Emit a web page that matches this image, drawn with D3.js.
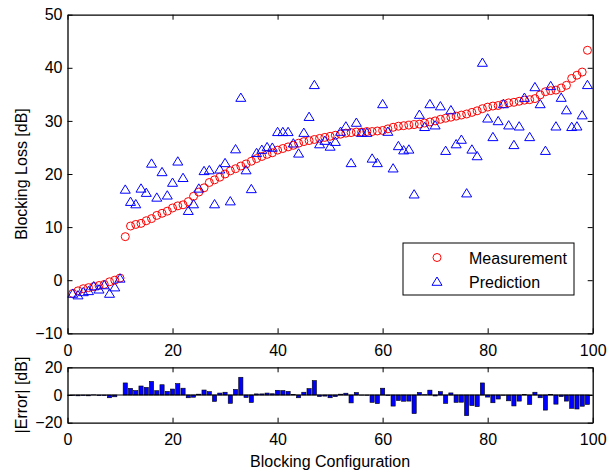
<!DOCTYPE html>
<html>
<head>
<meta charset="utf-8">
<script src="https://cdn.jsdelivr.net/npm/d3@7"></script>
<style>
body { margin: 0; background: #fff; }
text { font-family: Arial, "Liberation Sans", Helvetica, sans-serif; fill: #000; }
</style>
</head>
<body>
<div id="chart"></div>
<script>
// blocking configurations 1..99
var configs = d3.range(1, 100);

var measurement = [-2.5, -2.0, -1.6, -1.4, -1.2, -1.0, -0.8, -0.3, 0.0, 0.4,
  8.2, 10.2, 10.5, 10.7, 11.2, 11.6, 12.2, 12.6, 13.0, 13.6,
  14.0, 14.2, 14.8, 15.8, 16.6, 17.4, 18.4, 18.9, 19.4, 20.0,
  20.6, 21.0, 21.5, 21.9, 22.4, 22.9, 23.3, 23.7, 24.0, 24.5,
  24.8, 25.1, 25.4, 25.8, 26.1, 26.3, 26.5, 26.7, 26.9, 27.1,
  27.3, 27.5, 27.7, 27.8, 27.9, 27.9, 28.0, 28.0, 28.1, 28.2,
  28.5, 28.8, 29.0, 29.1, 29.2, 29.3, 29.4, 29.6, 29.8, 30.0,
  30.3, 30.5, 30.7, 30.9, 31.1, 31.3, 31.6, 31.9, 32.3, 32.6,
  32.8, 32.9, 33.2, 33.4, 33.5, 33.7, 33.9, 34.0, 34.2, 34.9,
  35.5, 35.7, 35.8, 36.2, 36.7, 38.0, 38.6, 39.2, 43.3];

var prediction = [-2.5, -2.8, -2.2, -2.0, -1.1, -1.7, -0.9, -2.5, -1.3, 0.35,
  17.1, 14.8, 14.35, 17.3, 16.5, 22.0, 15.6, 20.4, 16.0, 18.4,
  22.4, 19.3, 13.1, 14.35, 17.3, 20.6, 20.75, 14.35, 20.9, 22.1,
  14.9, 24.7, 34.4, 20.75, 17.2, 24.0, 24.6, 25.1, 25.0, 27.95,
  27.95, 27.95, 25.8, 23.9, 27.8, 30.8, 36.8, 25.65, 26.3, 25.2,
  26.1, 28.0, 29.0, 22.1, 29.7, 27.8, 27.8, 22.95, 22.1, 33.2,
  28.0, 21.1, 25.3, 24.5, 24.65, 16.2, 31.2, 28.9, 33.2, 29.2,
  32.8, 24.4, 32.05, 25.65, 26.5, 16.4, 24.65, 23.4, 41.0, 30.5,
  27.0, 30.0, 33.2, 29.2, 25.5, 29.0, 34.4, 27.0, 36.4, 33.2,
  24.4, 36.6, 29.0, 34.4, 32.05, 28.9, 29.0, 31.1, 36.8];

var errors = [-0.3, -0.6, -0.4, -0.6, 0.1, -0.5, -0.4, -2.0, -1.3, 0.0,
  8.7, 4.8, 3.2, 6.5, 5.5, 9.8, 3.1, 7.4, 2.6, 4.3,
  8.2, 4.9, -2.0, -1.6, 0.6, 3.6, 2.4, -4.6, 1.4, 2.0,
  -6.0, 4.0, 12.8, -1.8, -5.4, 0.8, 0.8, 1.4, 0.9, 3.4,
  3.2, 2.6, 0.4, -2.0, 2.0, 4.6, 10.4, -1.1, -0.8, -2.0,
  -1.2, 0.6, 1.3, -5.7, 1.8, -0.1, -0.2, -5.3, -6.2, 4.9,
  -0.4, -8.0, -4.0, -4.5, -4.4, -13.4, 1.8, 0.2, 3.5, -0.7,
  2.4, -6.0, 1.5, -5.3, -5.2, -14.9, -7.6, -8.4, 8.7, -1.5,
  -5.6, -2.9, -0.2, -4.2, -7.9, -4.4, 0.3, -6.8, 2.0, -2.0,
  -10.9, 0.5, -6.6, -1.2, -4.4, -9.6, -10.1, -8.1, -6.8];

var xTicks = [0, 20, 40, 60, 80, 100];
var yTicksTop = [-10, 0, 10, 20, 30, 40, 50];
var yTicksBottom = [-20, 0, 20];
var seriesNames = ["Measurement", "Prediction"];

var width = 615, height = 473;
var left = 67.5, right = 592.7;
var tickLen = 5;
var fontSize = 16;

var svg = d3.select("#chart").append("svg")
    .attr("width", width)
    .attr("height", height);

var x = d3.scaleLinear().domain([0, 100]).range([left, right]);
var yTop = d3.scaleLinear().domain([-10, 50]).range([333.3, 14.7]);
var yBot = d3.scaleLinear().domain([-20, 20]).range([422.7, 367.3]);

// draws a boxed matlab style axes with inward ticks
function drawFrame(y, yTicks) {
    var y0 = y.range()[0], y1 = y.range()[1];
    var g = svg.append("g").attr("class", "frame");

    g.append("g")
        .attr("transform", "translate(0," + y0 + ")")
        .call(d3.axisBottom(x).tickValues(xTicks).tickSizeInner(-tickLen).tickSizeOuter(0).tickPadding(11));
    g.append("g")
        .attr("transform", "translate(0," + y1 + ")")
        .call(d3.axisTop(x).tickValues(xTicks).tickSizeInner(-tickLen).tickSizeOuter(0).tickFormat(""));
    g.append("g")
        .attr("transform", "translate(" + left + ",0)")
        .call(d3.axisLeft(y).tickValues(yTicks).tickSizeInner(-tickLen).tickSizeOuter(0).tickPadding(5));
    g.append("g")
        .attr("transform", "translate(" + right + ",0)")
        .call(d3.axisRight(y).tickValues(yTicks).tickSizeInner(-tickLen).tickSizeOuter(0).tickFormat(""));

    g.selectAll("text").attr("font-size", fontSize).attr("fill", "#000");
    g.selectAll("path.domain").attr("stroke", "#000").attr("stroke-width", 1.3);
    g.selectAll(".tick line").attr("stroke", "#000").attr("stroke-width", 1);
    return g;
}

// top panel
var topPanel = svg.append("g");

topPanel.selectAll(".meas")
    .data(configs)
    .enter()
    .append("circle")
    .attr("class", "meas")
    .attr("cx", function(d){ return x(d); })
    .attr("cy", function(d, i){ return yTop(measurement[i]); })
    .attr("r", 4)
    .attr("fill", "none")
    .attr("stroke", "#ff0000")
    .attr("stroke-width", 1);

var tri = "M0,-4.5L5,3.8L-5,3.8Z";

topPanel.selectAll(".pred")
    .data(configs)
    .enter()
    .append("path")
    .attr("class", "pred")
    .attr("d", tri)
    .attr("transform", function(d, i){ return "translate(" + x(d) + "," + yTop(prediction[i]) + ")"; })
    .attr("fill", "none")
    .attr("stroke", "#0000ff")
    .attr("stroke-width", 1);

drawFrame(yTop, yTicksTop);

// legend
var legend = svg.append("g").attr("class", "legend");
legend.append("rect")
    .attr("x", 403).attr("y", 243)
    .attr("width", 171).attr("height", 52)
    .attr("fill", "#fff")
    .attr("stroke", "#000")
    .attr("stroke-width", 1);
legend.append("circle")
    .attr("cx", 437).attr("cy", 257.5).attr("r", 4)
    .attr("fill", "none").attr("stroke", "#ff0000");
legend.append("path")
    .attr("d", tri)
    .attr("transform", "translate(437,281.5)")
    .attr("fill", "none").attr("stroke", "#0000ff");
legend.selectAll(".ltext")
    .data(seriesNames)
    .enter()
    .append("text")
    .attr("class", "ltext")
    .attr("x", 469)
    .attr("y", function(d, i){ return 264 + i * 24; })
    .attr("font-size", fontSize)
    .text(function(d){ return d; });

// bottom panel
var bottomPanel = svg.append("g");

bottomPanel.selectAll(".bar")
    .data(configs)
    .enter()
    .append("rect")
    .attr("class", "bar")
    .attr("x", function(d){ return x(d - 0.4); })
    .attr("width", function(d){ return x(d + 0.4) - x(d - 0.4); })
    .attr("y", function(d, i){ return Math.min(yBot(0), yBot(errors[i])); })
    .attr("height", function(d, i){ return Math.abs(yBot(errors[i]) - yBot(0)); })
    .attr("fill", "#0000ff")
    .attr("stroke", "#000")
    .attr("stroke-width", 0.6);

bottomPanel.append("line")
    .attr("x1", left).attr("x2", right)
    .attr("y1", yBot(0)).attr("y2", yBot(0))
    .attr("stroke", "#000")
    .attr("stroke-width", 1);

drawFrame(yBot, yTicksBottom);

// axis labels
svg.append("text")
    .attr("transform", "translate(27," + ((14.7 + 333.3) / 2) + ") rotate(-90)")
    .attr("text-anchor", "middle")
    .attr("font-size", fontSize)
    .text("Blocking Loss [dB]");

svg.append("text")
    .attr("transform", "translate(27," + ((367.3 + 422.7) / 2) + ") rotate(-90)")
    .attr("text-anchor", "middle")
    .attr("font-size", fontSize)
    .text("|Error| [dB]");

svg.append("text")
    .attr("x", (left + right) / 2)
    .attr("y", 467)
    .attr("text-anchor", "middle")
    .attr("font-size", fontSize)
    .text("Blocking Configuration");
</script>
</body>
</html>
